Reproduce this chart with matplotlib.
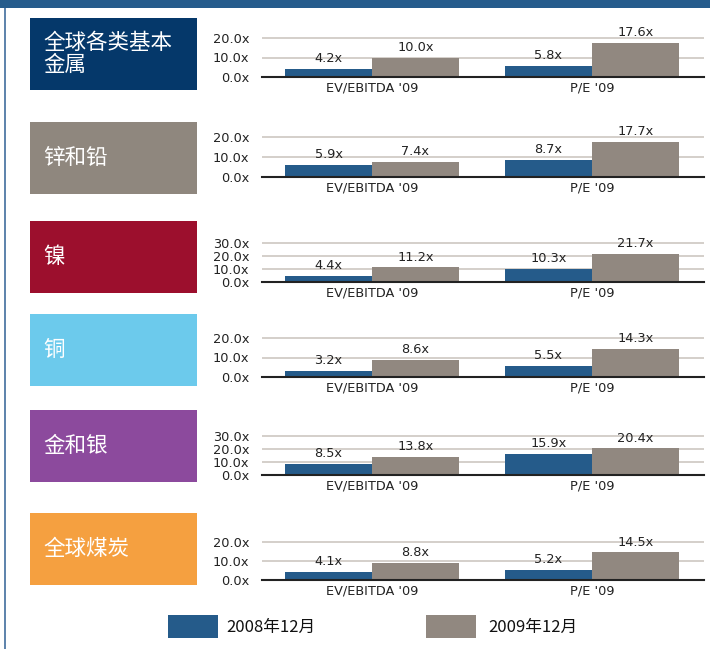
import matplotlib
matplotlib.use("Agg")
import matplotlib.pyplot as plt
from matplotlib.patches import Rectangle
import numpy as np

plt.rcParams['font.family'] = ['Noto Sans CJK SC', 'DejaVu Sans']

# ---- data ----
sectors = ["全球各类基本\n金属", "锌和铅", "镍", "铜", "金和银", "全球煤炭"]
categories = ["EV/EBITDA '09", "P/E '09"]
ev_2008 = [4.2, 5.9, 4.4, 3.2, 8.5, 4.1]
pe_2008 = [5.8, 8.7, 10.3, 5.5, 15.9, 5.2]
ev_2009 = [10.0, 7.4, 11.2, 8.6, 13.8, 8.8]
pe_2009 = [17.6, 17.7, 21.7, 14.3, 20.4, 14.5]
y_max = [20, 20, 30, 20, 30, 20]
series_labels = ["2008年12月", "2009年12月"]

# ---- style ----
W, H = 710, 649
box_colors = ["#05386a", "#8f877e", "#9c0f2d", "#6ccaec", "#8c4a9d", "#f5a040"]
c_blue = "#255b8a"
c_gray = "#918880"
grid_c = "#cdc7c1"
lat_font = "DejaVu Sans"
fs_small = 9.3

fig = plt.figure(figsize=(W / 100, H / 100), dpi=100)

def fx(px):
    return px / W

def fy(py):
    return 1 - py / H

def rect(x0, y0, x1, y1, color):
    fig.patches.append(Rectangle((fx(x0), fy(y1)), fx(x1 - x0), (y1 - y0) / H,
                                 transform=fig.transFigure, color=color, lw=0, zorder=0))

# frame decorations
rect(0, 0, W, 8, "#265c8c")
rect(4, 8, 6, H, "#6085ad")

box_top = [18, 122, 221, 314, 410, 513]
box_h = 72
zero_px = [77, 177, 282, 377, 475, 580]
toptick_px = [38, 137, 243, 338, 436, 542]
ax_left, ax_right = 262, 704

x = np.arange(len(categories))
w = 0.395

for i, name in enumerate(sectors):
    # coloured label box
    rect(30, box_top[i], 197, box_top[i] + box_h, box_colors[i])
    fig.text(fx(43), fy(box_top[i] + box_h / 2), name, color="white",
             fontsize=15.5, ha="left", va="center", linespacing=1.05)

    # chart
    z = zero_px[i]
    tt = toptick_px[i]
    top_px = tt - 4
    ytop = y_max[i] * (z - top_px) / (z - tt)
    ax = fig.add_axes([fx(ax_left), fy(z), fx(ax_right - ax_left), (z - top_px) / H])
    ax.set_xlim(-0.5, 1.51)
    ax.set_ylim(0, ytop)
    b2008 = [ev_2008[i], pe_2008[i]]
    b2009 = [ev_2009[i], pe_2009[i]]
    ax.bar(x - w / 2, b2008, w, color=c_blue, zorder=3)
    ax.bar(x + w / 2, b2009, w, color=c_gray, zorder=3)
    for xs, vals in ((x - w / 2, b2008), (x + w / 2, b2009)):
        for xx, v in zip(xs, vals):
            ax.annotate(f"{v:.1f}x", (xx, v), xytext=(0, 7.5), textcoords="offset points",
                        ha="center", va="center", fontsize=fs_small, family=lat_font,
                        color="#222222", zorder=5)
    ticks = np.arange(0, y_max[i] + 1, 10)
    ax.set_yticks(ticks)
    ax.set_yticklabels([f"{t:.1f}x" for t in ticks], family=lat_font, fontsize=fs_small)
    ax.set_xticks(x)
    ax.set_xticklabels(categories, family=lat_font, fontsize=fs_small)
    ax.tick_params(axis="y", length=0, pad=9, colors="#222222")
    ax.tick_params(axis="x", length=0, pad=3.5, colors="#222222")
    for t in ticks[1:]:
        ax.axhline(t, color=grid_c, lw=1.2, zorder=1)
    for s in ("top", "right", "left"):
        ax.spines[s].set_visible(False)
    ax.spines["bottom"].set_color("#222222")
    ax.spines["bottom"].set_linewidth(1.5)
    ax.spines["bottom"].set_zorder(4)
    ax.patch.set_visible(False)

# legend
rect(168, 615, 218, 638, c_blue)
rect(426, 615, 476, 638, c_gray)
fig.text(fx(226), fy(627), series_labels[0], fontsize=12, ha="left", va="center", color="#111111")
fig.text(fx(488), fy(627), series_labels[1], fontsize=12, ha="left", va="center", color="#111111")

fig.savefig("out.png", dpi=100)
